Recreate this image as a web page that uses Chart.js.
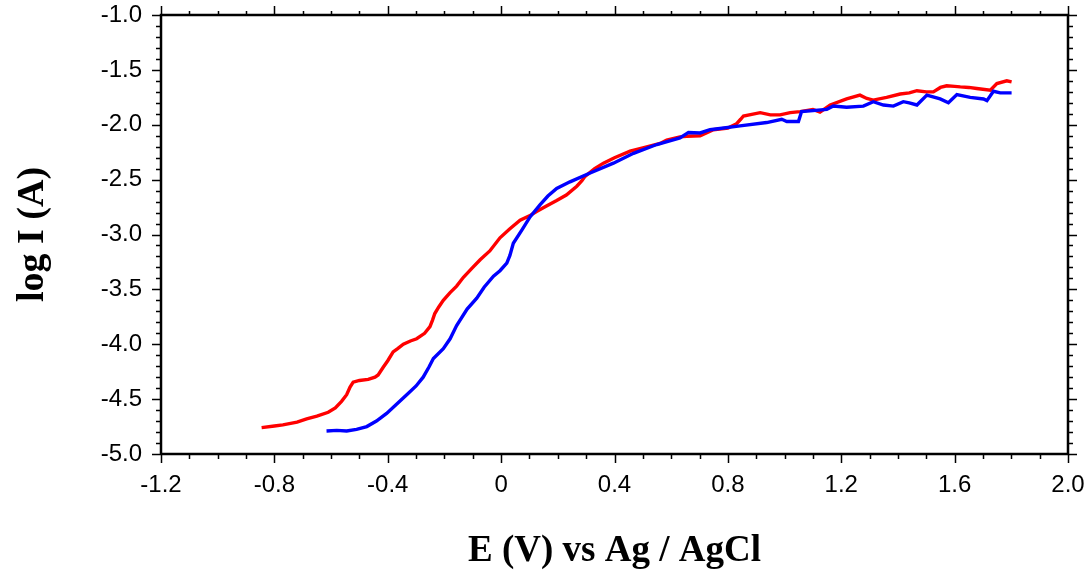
<!DOCTYPE html>
<html>
<head>
<meta charset="utf-8">
<script src="https://cdn.jsdelivr.net/npm/chart.js@4.4.1/dist/chart.umd.min.js"></script>
<style>
html,body{margin:0;padding:0;background:#fff;}
#wrap{width:1089px;height:578px;position:relative;}
</style>
</head>
<body>
<div id="wrap"><canvas id="c" width="1089" height="578"></canvas></div>
<script>
// Red curve: E (V) and log I (A)
const redE = [-0.845,-0.80,-0.77,-0.72,-0.686,-0.65,-0.61,-0.585,-0.563,-0.545,-0.533,-0.522,-0.50,-0.469,-0.445,-0.434,-0.416,-0.40,-0.381,-0.365,-0.345,-0.32,-0.298,-0.27,-0.251,-0.242,-0.234,-0.22,-0.204,-0.18,-0.157,-0.133,-0.10,-0.074,-0.04,-0.004,0.03,0.067,0.10,0.125,0.16,0.196,0.23,0.267,0.285,0.296,0.33,0.361,0.40,0.455,0.50,0.561,0.584,0.631,0.655,0.702,0.749,0.80,0.831,0.845,0.855,0.914,0.95,0.984,1.02,1.055,1.10,1.125,1.161,1.219,1.266,1.29,1.313,1.36,1.408,1.44,1.467,1.50,1.525,1.55,1.572,1.60,1.620,1.65,1.678,1.726,1.749,1.784,1.801];
const redLogI = [-4.76,-4.745,-4.735,-4.71,-4.68,-4.655,-4.62,-4.58,-4.52,-4.46,-4.39,-4.345,-4.33,-4.32,-4.30,-4.28,-4.21,-4.15,-4.07,-4.04,-4.00,-3.97,-3.95,-3.90,-3.84,-3.78,-3.72,-3.66,-3.60,-3.53,-3.47,-3.39,-3.30,-3.23,-3.15,-3.03,-2.95,-2.87,-2.83,-2.79,-2.74,-2.69,-2.64,-2.56,-2.51,-2.47,-2.40,-2.35,-2.30,-2.24,-2.21,-2.17,-2.14,-2.11,-2.105,-2.10,-2.045,-2.03,-1.99,-1.95,-1.92,-1.89,-1.91,-1.91,-1.89,-1.88,-1.86,-1.885,-1.82,-1.765,-1.73,-1.76,-1.775,-1.75,-1.72,-1.71,-1.69,-1.70,-1.70,-1.66,-1.645,-1.65,-1.655,-1.66,-1.67,-1.685,-1.625,-1.60,-1.61];
// Blue curve
const blueE = [-0.616,-0.58,-0.545,-0.51,-0.474,-0.44,-0.404,-0.37,-0.333,-0.30,-0.275,-0.255,-0.239,-0.204,-0.18,-0.157,-0.12,-0.086,-0.06,-0.027,-0.004,0.02,0.031,0.043,0.073,0.102,0.137,0.165,0.196,0.243,0.314,0.396,0.467,0.549,0.631,0.661,0.702,0.737,0.843,0.937,0.99,1.008,1.049,1.06,1.149,1.172,1.219,1.278,1.313,1.349,1.384,1.419,1.44,1.467,1.502,1.549,1.578,1.608,1.655,1.702,1.714,1.737,1.761,1.801];
const blueLogI = [-4.79,-4.785,-4.79,-4.775,-4.75,-4.70,-4.63,-4.55,-4.46,-4.38,-4.30,-4.21,-4.13,-4.04,-3.95,-3.83,-3.68,-3.58,-3.48,-3.38,-3.33,-3.26,-3.19,-3.08,-2.96,-2.84,-2.73,-2.65,-2.58,-2.52,-2.44,-2.35,-2.26,-2.18,-2.12,-2.07,-2.075,-2.045,-2.01,-1.98,-1.95,-1.97,-1.97,-1.88,-1.86,-1.83,-1.84,-1.83,-1.79,-1.82,-1.83,-1.79,-1.80,-1.82,-1.73,-1.765,-1.80,-1.725,-1.75,-1.765,-1.78,-1.695,-1.71,-1.71];
// Axis ticks
const xTicks = [-1.2,-0.8,-0.4,0,0.4,0.8,1.2,1.6,2.0];
const yTicks = [-1.0,-1.5,-2.0,-2.5,-3.0,-3.5,-4.0,-4.5,-5.0];
const xLabel = 'E (V) vs Ag / AgCl';
const yLabel = 'log I (A)';

const toPts = (xs, ys) => xs.map((x, i) => ({x: x, y: ys[i]}));

const frameTicks = {
  id: 'frameTicks',
  afterDraw(chart) {
    const ctx = chart.ctx, a = chart.chartArea;
    const xs = chart.scales.x, ys = chart.scales.y;
    ctx.save();
    ctx.strokeStyle = '#000';
    ctx.lineWidth = 2.5;
    ctx.beginPath();
    ctx.moveTo(a.left, a.bottom); ctx.lineTo(a.left, a.top); ctx.lineTo(a.right, a.top); ctx.lineTo(a.right, a.bottom); ctx.lineTo(a.left, a.bottom);
    ctx.stroke();
    ctx.lineWidth = 1.5;
    ctx.beginPath();
    for (let i = 0; i <= 32; i++) {
      const v = -1.2 + i * 0.1;
      const px = Math.round(xs.getPixelForValue(v)) + 0.5;
      const major = i % 4 === 0;
      const lb = major ? 9 : 5, lt = major ? 9 : 4;
      ctx.moveTo(px, a.bottom); ctx.lineTo(px, a.bottom + lb);
      ctx.moveTo(px, a.top); ctx.lineTo(px, a.top - lt);
    }
    for (let i = 0; i <= 40; i++) {
      const v = -5 + i * 0.1;
      const py = Math.round(ys.getPixelForValue(v)) + 0.5;
      const major = i % 5 === 0;
      const l = major ? 9 : 5;
      ctx.moveTo(a.left, py); ctx.lineTo(a.left - l, py);
      ctx.moveTo(a.right, py); ctx.lineTo(a.right + l, py);
    }
    ctx.stroke();
    ctx.restore();
  }
};

new Chart(document.getElementById('c'), {
  type: 'scatter',
  data: {
    datasets: [
      { label: 'blue', data: toPts(blueE, blueLogI), showLine: true, borderColor: '#0000ff', backgroundColor: '#0000ff', borderWidth: 3.4, pointRadius: 0, tension: 0 },
      { label: 'red', data: toPts(redE, redLogI), showLine: true, borderColor: '#ff0000', backgroundColor: '#ff0000', borderWidth: 3.4, pointRadius: 0, tension: 0 }
    ]
  },
  options: {
    responsive: false,
    animation: false,
    devicePixelRatio: 1,
    layout: { padding: { top: 15, right: 21, left: 0, bottom: 0 } },
    plugins: { legend: { display: false }, tooltip: { enabled: false } },
    scales: {
      x: {
        type: 'linear', min: -1.2, max: 2.0,
        afterBuildTicks: (s) => { s.ticks = xTicks.map(v => ({value: v})); },
        afterFit: (s) => { s.height = 124; s.paddingLeft = 0; s.paddingRight = 0; },
        grid: { display: false, drawTicks: false },
        border: { display: false },
        ticks: {
          padding: 17, color: '#000',
          font: { family: 'Liberation Sans, Arial, sans-serif', size: 24 },
          callback: (v) => (v === 0 ? '0' : (Math.round(v * 10) / 10).toFixed(1)),
          maxRotation: 0, autoSkip: false
        },
        title: {
          display: true, text: xLabel, color: '#000',
          font: { family: 'Liberation Serif, Times New Roman, serif', size: 37, weight: 'bold' },
          padding: { top: 0, bottom: 4 }
        }
      },
      y: {
        type: 'linear', min: -5.0, max: -1.0,
        afterBuildTicks: (s) => { s.ticks = yTicks.map(v => ({value: v})); },
        afterFit: (s) => { s.width = 161; s.paddingTop = 0; s.paddingBottom = 0; },
        grid: { display: false, drawTicks: false },
        border: { display: false },
        ticks: {
          padding: 19, color: '#000',
          font: { family: 'Liberation Sans, Arial, sans-serif', size: 24 },
          callback: (v) => v.toFixed(1),
          autoSkip: false
        },
        title: {
          display: true, text: yLabel, color: '#000',
          font: { family: 'Liberation Serif, Times New Roman, serif', size: 38, weight: 'bold' },
          padding: { top: 10, bottom: 0 }
        }
      }
    }
  },
  plugins: [frameTicks]
});
</script>
</body>
</html>
